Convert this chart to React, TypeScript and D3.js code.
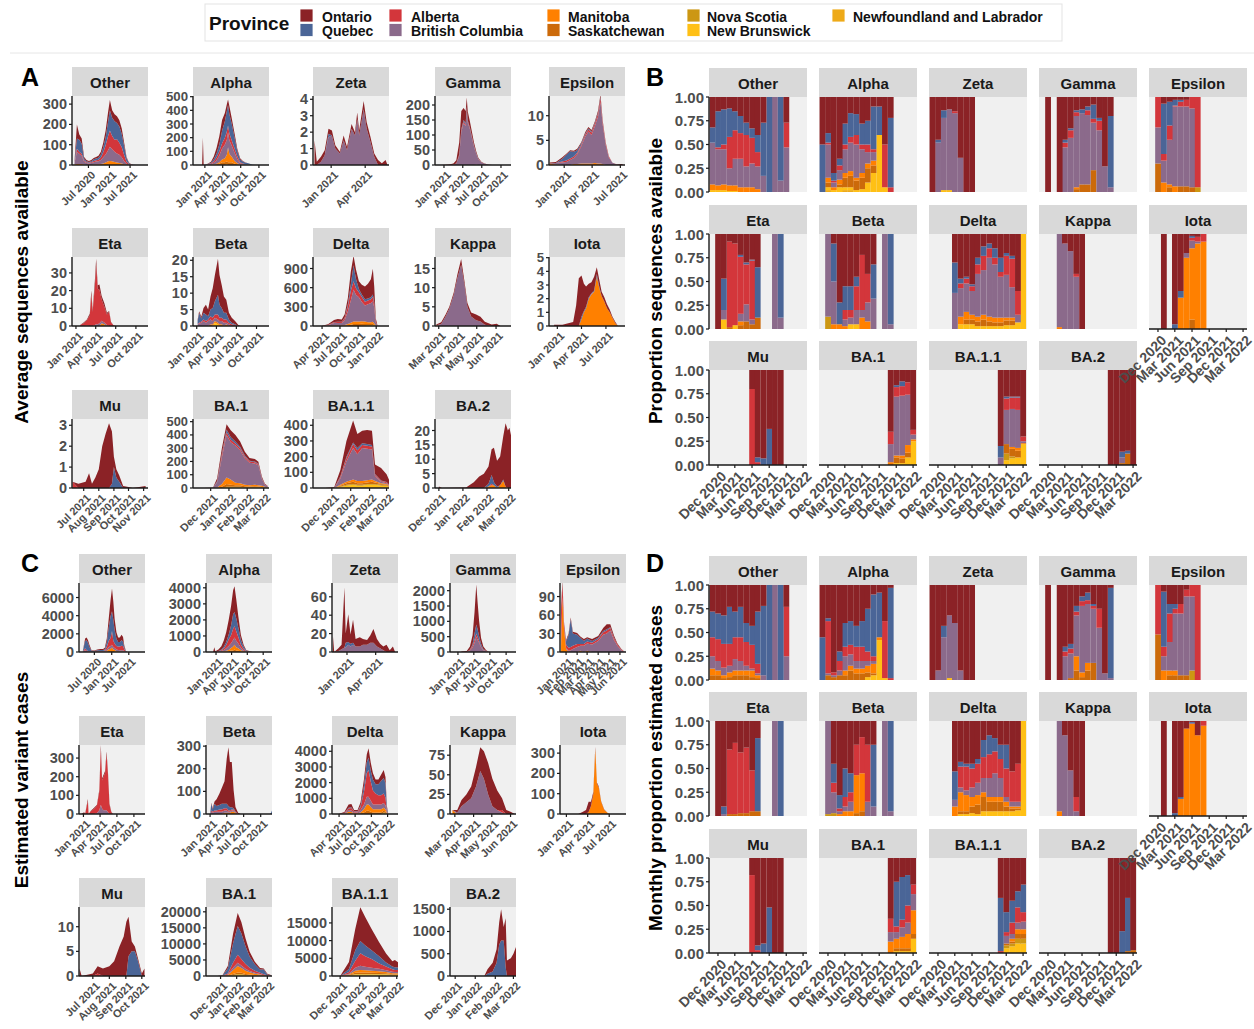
import React from "react";
import * as d3 from "d3";

const FONT = "'Liberation Sans', Arial, Helvetica, sans-serif";

const PROVINCES = ["Ontario", "Quebec", "Alberta", "British Columbia", "Manitoba", "Saskatchewan", "Nova Scotia", "New Brunswick", "Newfoundland and Labrador"];
const PROVINCE_COLORS = ["#8b2226", "#4a6597", "#d3363b", "#8b6a8b", "#ff8000", "#cc6a0a", "#cc9713", "#ffc015", "#eeaa18"];
const VARIANTS = ["Other", "Alpha", "Zeta", "Gamma", "Epsilon", "Eta", "Beta", "Delta", "Kappa", "Iota", "Mu", "BA.1", "BA.1.1", "BA.2"];
// stacking: first province ends on top
const STACK_KEYS = [8, 7, 6, 5, 4, 3, 2, 1, 0];

// ---------- Panel A: average sequences available  rows: [date, ON, QC, AB, BC, MB, SK, NS, NB, NL]
const seqOther = [
  ["2020-03-01", 4, 4, 2, 8, 2], ["2020-03-22", 70, 50, 15, 60, 5], ["2020-04-12", 25, 60, 10, 50, 5], ["2020-05-03", 25, 50, 10, 40, 5],
  ["2020-05-24", 8, 10, 5, 15, 2], ["2020-06-14", 6, 6, 3, 10], ["2020-07-05", 5, 4, 3, 8], ["2020-07-26", 6, 5, 4, 10],
  ["2020-08-16", 7, 8, 6, 12, 2], ["2020-09-06", 8, 8, 7, 14, 3], ["2020-09-27", 9, 10, 8, 15, 3], ["2020-10-18", 13, 15, 12, 20, 5],
  ["2020-11-08", 22, 25, 25, 30, 8], ["2020-11-29", 33, 40, 45, 40, 12], ["2020-12-20", 47, 70, 70, 55, 18], ["2021-01-05", 50, 100, 80, 70, 20],
  ["2021-01-25", 37, 90, 65, 60, 18], ["2021-02-15", 35, 90, 60, 50, 15], ["2021-03-08", 33, 80, 70, 45, 12], ["2021-03-29", 30, 80, 60, 40, 10],
  ["2021-04-19", 27, 65, 50, 30, 8], ["2021-05-10", 16, 45, 30, 15, 4], ["2021-05-31", 6, 18, 10, 5, 1], ["2021-06-21", 2, 5, 3, 2],
  ["2021-07-12", 1, 1, 1, 1], ["2021-08-02", 0, 1], ["2021-08-23", 0],
];
const seqAlpha = [
  ["2020-11-20", 0], ["2020-12-18", 0], ["2020-12-22", 200], ["2020-12-26", 0], ["2021-01-15", 3, 2, 2, 3], ["2021-02-01", 8, 5, 5, 5, 1],
  ["2021-02-15", 20, 15, 10, 12, 3, 2], ["2021-03-01", 40, 30, 20, 25, 5, 5], ["2021-03-15", 60, 50, 30, 50, 10, 10], ["2021-03-29", 80, 90, 40, 80, 20, 20],
  ["2021-04-12", 60, 120, 50, 100, 30, 20], ["2021-04-22", 50, 150, 60, 110, 50, 20, 0, 5], ["2021-04-28", 40, 150, 50, 110, 110, 20], ["2021-05-05", 60, 140, 50, 100, 60, 20],
  ["2021-05-17", 40, 120, 40, 80, 40, 20], ["2021-05-31", 30, 80, 30, 60, 20, 10], ["2021-06-14", 15, 40, 20, 30, 8, 5], ["2021-06-28", 8, 20, 8, 10, 3],
  ["2021-07-12", 4, 15, 3, 5, 2, 0, 0, 1], ["2021-07-26", 2, 12, 0, 3, 0, 0, 0, 2], ["2021-08-09", 0, 8, 0, 2, 0, 0, 0, 2], ["2021-08-30", 0, 2], ["2021-09-15", 0],
];
const seqZeta = [
  ["2020-11-18", 1.5], ["2020-11-24", 0.2], ["2020-12-05", 0.3, 0, 0, 0.2], ["2020-12-15", 0.3, 0, 0, 0.6], ["2020-12-25", 0.3, 0.2, 0, 1.7],
  ["2021-01-03", 0.3, 0, 0, 1.8], ["2021-01-12", 0.2, 0, 0, 1.0], ["2021-01-24", 0.1, 0, 0, 0.7], ["2021-02-03", 0.3, 0, 0, 1.5], ["2021-02-12", 0.2, 0, 0, 0.9],
  ["2021-02-24", 0.3, 0, 0, 2.2], ["2021-03-05", 0.2, 0, 0, 1.8], ["2021-03-11", 0.4, 0, 0, 2.8], ["2021-03-16", 0.3, 0, 0, 1.8], ["2021-03-28", 0.5, 0, 0, 3.4],
  ["2021-04-05", 0.4, 0, 0, 2.2], ["2021-04-15", 0.3, 0, 0, 1.4], ["2021-04-25", 0.2, 0, 0, 0.5], ["2021-05-05", 0.3], ["2021-05-15", 0.1], ["2021-05-25", 0.3], ["2021-05-30", 0],
];
const seqGamma = [
  ["2020-12-20", 0], ["2021-01-10", 1], ["2021-01-25", 2], ["2021-02-15", 4, 0, 0, 1], ["2021-03-01", 10, 0, 1, 5], ["2021-03-15", 40, 2, 3, 30],
  ["2021-03-25", 60, 5, 5, 110], ["2021-04-05", 40, 5, 5, 140], ["2021-04-15", 40, 5, 5, 130], ["2021-04-20", 30, 5, 5, 185], ["2021-04-25", 30, 3, 5, 140],
  ["2021-05-05", 20, 3, 3, 120], ["2021-05-15", 15, 2, 3, 90], ["2021-05-25", 10, 2, 2, 60], ["2021-06-05", 6, 1, 1, 35, 1], ["2021-06-15", 3, 1, 1, 18],
  ["2021-06-30", 2, 0, 0, 8], ["2021-07-15", 1, 0, 0, 4], ["2021-08-01", 0.5, 0, 0, 1], ["2021-08-20", 0],
];
const seqEpsilon = [
  ["2020-11-15", 0.2, 0, 0, 0, 0.3], ["2020-12-05", 0.2, 0, 0, 0.3, 0.1], ["2020-12-25", 0.3, 0.5, 0.2, 0.5], ["2021-01-08", 0.2, 1.2, 0.3, 0.6],
  ["2021-01-20", 0.2, 1.5, 0.3, 1.0], ["2021-02-01", 0.2, 1.0, 0.3, 1.2, 0.2], ["2021-02-12", 0.3, 0.5, 0.3, 2.0, 0.2], ["2021-02-25", 0.2, 0.3, 0.3, 3.5, 0.3],
  ["2021-03-10", 0.3, 0.2, 0.4, 5.5, 0.3], ["2021-03-20", 0.3, 0.2, 0.4, 6.5, 0.3], ["2021-03-30", 0.3, 0.2, 0.5, 5.8, 0.3], ["2021-04-10", 0.3, 0.2, 0.5, 7.5, 0.4],
  ["2021-04-20", 0.4, 0.2, 0.6, 9.5, 0.3], ["2021-04-28", 0.5, 0.2, 0.8, 12.5, 0.3], ["2021-05-05", 0.3, 0.1, 0.5, 8, 0.2], ["2021-05-15", 0.2, 0, 0.3, 4],
  ["2021-05-25", 0.1, 0, 0.2, 1.5], ["2021-06-05", 0, 0, 0, 0.5], ["2021-06-20", 0.1], ["2021-07-05", 0.2], ["2021-07-12", 0],
];
const seqEta = [
  ["2021-01-20", 0, 0, 0.5], ["2021-02-05", 0.5, 0, 1.5], ["2021-02-20", 0.5, 0, 3, 0.2], ["2021-03-05", 1, 0, 6], ["2021-03-12", 2, 0, 18],
  ["2021-03-18", 1, 0, 8], ["2021-03-28", 3, 0, 22, 0.5], ["2021-04-03", 3, 0, 34, 1], ["2021-04-10", 2, 0, 20, 1], ["2021-04-18", 3, 0, 19, 1.5],
  ["2021-04-28", 2, 0, 12, 1.5, 1.5], ["2021-05-10", 2, 0, 9, 1, 1], ["2021-05-22", 1, 0, 6, 0.5], ["2021-06-01", 0.5, 0, 8], ["2021-06-10", 0.3, 0, 2],
  ["2021-06-20", 0, 0, 0.5], ["2021-07-01", 0],
];
const seqBeta = [
  ["2021-01-05", 0.3, 1, 0, 0.5], ["2021-01-12", 0.5, 3, 0.3, 0.7], ["2021-01-22", 0.5, 1, 0.3, 1], ["2021-02-01", 1.5, 2, 0.5, 1.5],
  ["2021-02-12", 3, 2, 0.5, 1], ["2021-02-22", 2, 1, 0.5, 1.5], ["2021-03-05", 4, 2, 1, 1.5, 0, 0.5], ["2021-03-15", 6, 3, 1, 1, 0.5],
  ["2021-03-25", 8, 4, 1, 1, 0.5, 0, 0, 1], ["2021-04-08", 11, 6, 1.5, 1, 0.5, 0, 0, 0.5], ["2021-04-15", 9, 4, 1, 1, 0.5], ["2021-04-25", 7, 3, 1, 1, 0.5],
  ["2021-05-05", 5, 2, 1, 1], ["2021-05-16", 4, 2, 1, 0.5, 0.5], ["2021-05-28", 2, 1, 0.5, 0.5], ["2021-06-10", 1.5, 0.5, 0.5], ["2021-06-25", 1, 0.2, 0.3],
  ["2021-07-10", 0.3], ["2021-07-20", 0],
];
const seqDelta = [
  ["2021-04-01", 2, 0, 0, 1], ["2021-05-01", 10, 2, 2, 10, 2], ["2021-06-01", 30, 5, 10, 40, 5, 3], ["2021-06-20", 40, 5, 15, 40, 5, 3],
  ["2021-07-10", 35, 5, 15, 40, 5, 3], ["2021-07-25", 50, 10, 30, 80, 10, 5], ["2021-08-10", 100, 30, 80, 200, 20, 10], ["2021-08-25", 200, 100, 150, 350, 30, 20],
  ["2021-09-08", 150, 250, 130, 500, 40, 30], ["2021-09-20", 150, 150, 100, 420, 40, 30], ["2021-10-05", 120, 50, 80, 380, 40, 30], ["2021-10-20", 150, 40, 80, 300, 40, 30, 5],
  ["2021-11-05", 200, 40, 60, 250, 40, 25, 5], ["2021-11-20", 230, 30, 60, 280, 30, 20, 5, 5], ["2021-12-05", 280, 30, 60, 300, 30, 20, 5, 5],
  ["2021-12-15", 400, 40, 70, 320, 30, 20, 5, 5, 5], ["2021-12-22", 250, 30, 50, 250, 20, 10, 5, 5], ["2021-12-30", 50, 5, 10, 40, 5, 3, 2, 2],
  ["2022-01-08", 3, 0, 0, 2], ["2022-01-20", 0],
];
const seqKappa = [
  ["2021-02-25", 0.2, 0, 0, 0, 0.2], ["2021-03-05", 0.5, 0, 0, 0.5], ["2021-03-12", 0.5, 0, 0, 2.5], ["2021-03-18", 0.5, 0, 0, 4.5],
  ["2021-03-25", 0.7, 0, 0, 8], ["2021-03-31", 1, 0, 0, 12.5], ["2021-04-06", 1.5, 0, 0, 16], ["2021-04-11", 1, 0, 0, 11], ["2021-04-16", 1, 0, 0, 5],
  ["2021-04-22", 1, 0, 0, 2.5], ["2021-04-30", 1.5, 0, 0, 1.5], ["2021-05-07", 1.2, 0, 0, 1.2], ["2021-05-14", 0.8, 0, 0, 0.3], ["2021-05-25", 0.4],
  ["2021-06-02", 0.6], ["2021-06-08", 0],
];
const seqIota = [
  ["2020-12-20", 0.1], ["2021-01-20", 0.1], ["2021-03-01", 0.3], ["2021-03-12", 1.5], ["2021-03-22", 3.5], ["2021-04-01", 3, 0.2, 0, 0, 0.5],
  ["2021-04-10", 2, 0.1, 0, 0, 1], ["2021-04-18", 1.5, 0.1, 0, 0, 1.3], ["2021-04-28", 1, 0.1, 0, 0, 2], ["2021-05-08", 0.8, 0, 0, 0.1, 2.3],
  ["2021-05-18", 1, 0.1, 0, 0, 2.5], ["2021-05-28", 0.5, 0.2, 0, 0, 3.6], ["2021-06-06", 0.5, 0.1, 0, 0, 2.8], ["2021-06-15", 0.3, 0, 0, 0, 2.2],
  ["2021-06-25", 0.3, 0, 0, 0, 1.8], ["2021-07-05", 0.3, 0, 0, 0, 1.3], ["2021-07-15", 0.2, 0, 0, 0, 1], ["2021-07-25", 0.1, 0, 0, 0, 0.6],
  ["2021-08-05", 0.1, 0, 0, 0, 0.2], ["2021-08-15", 0],
];
const seqMu = [
  ["2021-06-08", 0, 0, 0.3], ["2021-06-20", 0.2], ["2021-07-05", 0.3], ["2021-07-12", 0.7], ["2021-07-18", 0.2], ["2021-07-25", 0.5], ["2021-08-01", 0.9],
  ["2021-08-08", 2.0], ["2021-08-15", 2.6], ["2021-08-22", 3.1], ["2021-08-28", 2.5, 0.2], ["2021-09-01", 0.5, 1.0], ["2021-09-06", 0.4, 0.5],
  ["2021-09-12", 0.3, 0.3], ["2021-09-20", 0.1], ["2021-10-01", 0.05], ["2021-10-10", 0], ["2021-11-05", 0.1],
];
const seqBA1 = [
  ["2021-11-20", 0], ["2021-12-05", 2, 0, 0, 2], ["2021-12-12", 20, 5, 5, 40, 3], ["2021-12-20", 40, 10, 20, 200, 20, 10], ["2021-12-28", 40, 20, 20, 320, 50, 20, 5, 5],
  ["2022-01-04", 50, 20, 20, 280, 40, 15, 5, 5], ["2022-01-12", 50, 15, 15, 280, 20, 10, 5, 5], ["2022-01-20", 40, 10, 15, 250, 15, 10, 5, 5],
  ["2022-01-28", 30, 8, 12, 200, 10, 8, 3, 3], ["2022-02-05", 20, 5, 10, 170, 10, 5, 3, 3], ["2022-02-14", 20, 5, 10, 160, 10, 8, 3, 3],
  ["2022-02-20", 15, 3, 8, 150, 10, 5, 3, 3], ["2022-02-26", 10, 2, 5, 50, 10, 3, 2, 2], ["2022-03-03", 5, 0, 3, 15, 5, 2, 1, 1], ["2022-03-08", 3, 0, 2, 8, 2, 1],
];
const seqBA11 = [
  ["2021-11-20", 0], ["2021-12-05", 5, 0, 0, 2], ["2021-12-15", 40, 5, 10, 40, 5, 5, 3, 5, 2], ["2021-12-25", 100, 10, 20, 130, 10, 10, 5, 10, 5],
  ["2022-01-05", 140, 10, 25, 200, 15, 15, 5, 15, 5], ["2022-01-12", 90, 15, 25, 170, 15, 10, 5, 10, 5], ["2022-01-20", 80, 10, 20, 210, 15, 10, 5, 10, 5],
  ["2022-01-28", 90, 10, 20, 200, 15, 10, 5, 15, 5], ["2022-02-05", 90, 10, 20, 190, 15, 15, 5, 15, 5], ["2022-02-10", 60, 5, 10, 30, 10, 10, 5, 15, 5],
  ["2022-02-20", 80, 3, 5, 10, 5, 5, 5, 10, 5], ["2022-03-01", 50, 2, 5, 5, 5, 5, 3, 10, 3], ["2022-03-05", 30, 1, 3, 3, 3, 3, 2, 5, 2],
];
const seqBA2 = [
  ["2021-12-01", 0.5], ["2021-12-05", 0], ["2022-01-05", 0.2], ["2022-01-15", 2], ["2022-01-22", 4], ["2022-01-28", 5], ["2022-02-03", 6, 1, 0, 0, 0.5],
  ["2022-02-07", 9, 3, 0.5, 0, 1], ["2022-02-10", 12, 1, 0, 0, 1], ["2022-02-14", 9, 0.5], ["2022-02-18", 10, 0, 0, 0, 1], ["2022-02-22", 15, 0.5, 0, 0, 2.5],
  ["2022-02-25", 22, 0, 0, 0, 0.5], ["2022-02-28", 20], ["2022-03-02", 21], ["2022-03-05", 17],
];
const seqStart = ["2020-02-08", "2020-11-02", "2020-11-14", "2020-11-19", "2020-11-13", "2020-12-14", "2020-12-15", "2021-02-14", "2021-02-23", "2020-12-01", "2021-06-07", "2021-11-01", "2021-10-31", "2021-11-26"];
const seqEnd = ["2021-12-05", "2021-11-21", "2021-06-03", "2021-11-18", "2021-07-16", "2021-11-25", "2021-11-27", "2022-03-07", "2021-06-25", "2021-09-10", "2021-11-10", "2022-03-10", "2022-03-05", "2022-03-04"];
const seqYMax = [340, 505, 4.2, 230, 14, 39, 21, 1080, 18, 5.05, 3.3, 520, 440, 24];
const seqYTicks = [[0, 100, 200, 300], [0, 100, 200, 300, 400, 500], [0, 1, 2, 3, 4], [0, 50, 100, 150, 200], [0, 5, 10], [0, 10, 20, 30], [0, 5, 10, 15, 20],
  [0, 300, 600, 900], [0, 5, 10, 15], [0, 1, 2, 3, 4, 5], [0, 1, 2, 3], [0, 100, 200, 300, 400, 500], [0, 100, 200, 300, 400], [0, 5, 10, 15, 20]];
const seqXTicks = [["2020-07", "2021-01", "2021-07"], ["2021-01", "2021-04", "2021-07", "2021-10"], ["2021-01", "2021-04"], ["2021-01", "2021-04", "2021-07", "2021-10"],
  ["2021-01", "2021-04", "2021-07"], ["2021-01", "2021-04", "2021-07", "2021-10"], ["2021-01", "2021-04", "2021-07", "2021-10"], ["2021-04", "2021-07", "2021-10", "2022-01"],
  ["2021-03", "2021-04", "2021-05", "2021-06"], ["2021-01", "2021-04", "2021-07"], ["2021-07", "2021-08", "2021-09", "2021-10", "2021-11"],
  ["2021-12", "2022-01", "2022-02", "2022-03"], ["2021-12", "2022-01", "2022-02", "2022-03"], ["2021-12", "2022-01", "2022-02", "2022-03"]];

// ---------- Panel C: estimated variant cases
const caseOther = [
  ["2020-03-01", 50, 50, 20, 30], ["2020-03-25", 300, 800, 200, 200], ["2020-04-10", 300, 1100, 100, 100], ["2020-04-25", 300, 900, 50, 50],
  ["2020-05-10", 200, 500, 30, 30], ["2020-06-01", 50, 100, 20, 20], ["2020-07-01", 50, 50, 30, 30], ["2020-08-01", 80, 80, 50, 50, 20],
  ["2020-09-01", 100, 100, 50, 50, 20], ["2020-10-01", 100, 100, 50, 50, 20], ["2020-10-20", 150, 150, 80, 60, 20], ["2020-11-10", 400, 500, 300, 150, 80, 50],
  ["2020-12-01", 1000, 1500, 700, 250, 200, 100], ["2020-12-20", 1800, 2400, 900, 300, 250, 100], ["2021-01-04", 2500, 2200, 1500, 300, 400, 100],
  ["2021-01-18", 2000, 2300, 700, 250, 200, 100], ["2021-02-01", 1200, 1500, 500, 200, 150, 80], ["2021-02-20", 700, 800, 400, 150, 80, 40],
  ["2021-03-10", 500, 500, 400, 150, 60], ["2021-03-28", 500, 500, 400, 150, 50], ["2021-04-15", 600, 600, 500, 150, 50], ["2021-05-01", 500, 500, 450, 150, 50],
  ["2021-05-15", 200, 200, 200, 80, 20], ["2021-06-01", 30, 30, 30, 10], ["2021-06-15", 0],
];
const caseAlpha = [
  ["2020-12-15", 0], ["2020-12-22", 300], ["2020-12-28", 50], ["2021-01-15", 100, 20, 20, 20], ["2021-02-01", 200, 50, 50, 50, 10],
  ["2021-02-15", 400, 100, 100, 80, 20, 20], ["2021-03-01", 600, 200, 200, 150, 50, 30], ["2021-03-15", 900, 300, 400, 250, 80, 50],
  ["2021-03-29", 1200, 600, 500, 300, 150, 100], ["2021-04-10", 1500, 900, 700, 400, 250, 100], ["2021-04-18", 1600, 900, 700, 450, 300, 150],
  ["2021-04-28", 1200, 800, 600, 400, 200, 100], ["2021-05-10", 700, 600, 400, 300, 150, 80], ["2021-05-25", 300, 300, 200, 150, 80, 30],
  ["2021-06-10", 100, 150, 80, 60, 30, 10], ["2021-06-25", 30, 50, 20, 20, 10], ["2021-07-15", 10, 20, 5, 5], ["2021-08-01", 0],
];
const caseZeta = [
  ["2020-11-18", 17], ["2020-11-22", 0], ["2020-12-05", 3, 0, 0, 1], ["2020-12-15", 5, 0, 0, 3], ["2020-12-24", 65, 0, 0, 5], ["2020-12-28", 10, 5, 0, 5],
  ["2021-01-05", 30, 3, 0, 8], ["2021-01-12", 10, 3, 0, 6], ["2021-01-20", 25, 2, 0, 8], ["2021-01-28", 8, 0, 0, 6], ["2021-02-10", 10, 0, 0, 6],
  ["2021-02-20", 6, 0, 0, 8], ["2021-03-05", 5, 0, 0, 8], ["2021-03-15", 8, 0, 0, 10], ["2021-03-25", 15, 0, 0, 10], ["2021-04-05", 8, 0, 0, 6],
  ["2021-04-15", 5, 0, 0, 4], ["2021-04-25", 4, 0, 0, 2], ["2021-05-05", 8], ["2021-05-15", 2], ["2021-05-25", 6], ["2021-06-01", 0],
];
const caseGamma = [
  ["2021-01-20", 20], ["2021-02-20", 30], ["2021-03-10", 100, 10, 20, 50], ["2021-03-25", 300, 50, 50, 150], ["2021-04-05", 700, 200, 100, 300],
  ["2021-04-15", 1300, 300, 100, 500], ["2021-04-22", 900, 250, 100, 400], ["2021-05-01", 500, 150, 60, 300], ["2021-05-12", 200, 80, 30, 150],
  ["2021-05-25", 80, 30, 10, 60], ["2021-06-10", 20, 10, 5, 20], ["2021-06-25", 5, 0, 0, 5], ["2021-07-10", 0],
];
const caseEpsilon = [
  ["2020-12-18", 5, 0, 60, 0, 10], ["2020-12-22", 5, 0, 20, 0, 90], ["2020-12-26", 0, 0, 10, 0, 40], ["2021-01-01", 2, 5, 5, 2, 5], ["2021-01-08", 3, 20, 5, 2],
  ["2021-01-14", 3, 45, 5, 3], ["2021-01-20", 3, 20, 5, 5], ["2021-02-01", 3, 15, 5, 8], ["2021-02-10", 2, 10, 3, 8, 2], ["2021-02-20", 3, 5, 3, 10],
  ["2021-03-01", 2, 5, 3, 12, 2], ["2021-03-15", 3, 3, 3, 12], ["2021-04-01", 3, 2, 3, 18], ["2021-04-15", 5, 2, 4, 28], ["2021-04-25", 8, 2, 5, 30],
  ["2021-05-05", 5, 1, 4, 35], ["2021-05-15", 3, 1, 3, 20], ["2021-05-25", 2, 0, 2, 10], ["2021-06-05", 1, 0, 1, 3], ["2021-06-15", 0],
];
const caseEta = [
  ["2020-12-20", 0], ["2021-01-05", 10], ["2021-01-10", 0], ["2021-01-25", 10, 0, 70], ["2021-01-29", 0], ["2021-02-10", 2, 0, 15], ["2021-03-01", 5, 0, 30],
  ["2021-03-15", 5, 0, 40, 5], ["2021-03-28", 10, 0, 100, 20], ["2021-04-05", 20, 0, 300, 50], ["2021-04-12", 10, 0, 150, 30], ["2021-04-20", 10, 0, 180, 20],
  ["2021-04-28", 10, 0, 200, 20], ["2021-05-06", 15, 0, 300, 20], ["2021-05-14", 10, 0, 200, 10], ["2021-05-22", 5, 0, 50], ["2021-06-01", 2, 0, 10], ["2021-06-10", 0],
];
const caseBeta = [
  ["2021-01-01", 0], ["2021-01-08", 5, 30, 5, 10], ["2021-01-15", 5, 10, 5, 5], ["2021-01-25", 10, 30, 5, 10], ["2021-02-05", 30, 20, 5, 10],
  ["2021-02-20", 50, 20, 10, 10], ["2021-03-05", 70, 25, 10, 10], ["2021-03-20", 100, 20, 10, 10, 5], ["2021-04-01", 200, 20, 10, 10, 5],
  ["2021-04-10", 260, 20, 5, 5, 5], ["2021-04-18", 200, 15, 5, 5, 5], ["2021-04-28", 200, 10, 5, 5, 10], ["2021-05-08", 80, 5, 5, 5, 10],
  ["2021-05-18", 20, 2, 2, 2, 5], ["2021-06-01", 5], ["2021-06-15", 0], ["2021-11-20", 0], ["2021-11-26", 0, 6], ["2021-12-01", 0, 15],
];
const caseDelta = [
  ["2021-04-01", 10], ["2021-05-01", 50, 10, 20, 20, 20], ["2021-05-25", 200, 50, 100, 100, 100, 50], ["2021-06-10", 200, 50, 150, 100, 80, 50],
  ["2021-06-25", 80, 20, 60, 50, 30, 20], ["2021-07-15", 80, 20, 60, 50, 20, 20], ["2021-08-01", 200, 100, 200, 150, 50, 50], ["2021-08-20", 400, 400, 800, 300, 200, 100],
  ["2021-09-05", 500, 700, 1500, 500, 400, 200], ["2021-09-15", 600, 800, 1700, 500, 400, 200], ["2021-09-28", 500, 700, 1200, 400, 300, 150],
  ["2021-10-10", 400, 700, 900, 300, 200, 100], ["2021-10-25", 300, 600, 700, 300, 200, 100], ["2021-11-10", 300, 700, 600, 300, 200, 100],
  ["2021-11-25", 400, 900, 600, 300, 200, 100], ["2021-12-10", 500, 1000, 600, 300, 200, 100, 50, 50], ["2021-12-20", 400, 900, 500, 250, 150, 80, 40, 40],
  ["2021-12-28", 100, 200, 100, 50, 40, 20], ["2022-01-05", 0],
];
const caseKappa = [
  ["2021-02-25", 0, 0, 0, 0, 5], ["2021-03-05", 3, 0, 0, 2], ["2021-03-12", 8, 0, 0, 10], ["2021-03-20", 10, 0, 0, 15], ["2021-03-28", 15, 0, 0, 20],
  ["2021-04-05", 25, 0, 0, 35], ["2021-04-12", 30, 0, 0, 55], ["2021-04-18", 35, 0, 0, 45], ["2021-04-25", 40, 0, 0, 25], ["2021-05-02", 35, 0, 0, 10],
  ["2021-05-10", 25, 0, 0, 5], ["2021-05-18", 15, 0, 3, 2], ["2021-05-25", 5], ["2021-06-01", 3], ["2021-06-08", 0],
];
const caseIota = [
  ["2021-02-20", 0], ["2021-03-10", 10], ["2021-03-25", 20], ["2021-04-05", 50, 0, 0, 0, 10], ["2021-04-15", 20, 0, 0, 0, 40], ["2021-04-25", 10, 0, 0, 0, 100],
  ["2021-05-03", 10, 0, 0, 0, 320], ["2021-05-10", 5, 0, 0, 0, 150], ["2021-05-18", 5, 0, 0, 0, 130], ["2021-05-28", 3, 0, 0, 0, 60], ["2021-06-10", 2, 0, 0, 0, 20],
  ["2021-06-25", 0, 0, 0, 0, 5], ["2021-07-05", 0],
];
const caseMu = [
  ["2021-06-06", 1.5], ["2021-06-10", 0], ["2021-07-01", 0.5], ["2021-07-10", 1.5, 0, 0.5], ["2021-07-20", 1.5], ["2021-08-01", 2], ["2021-08-10", 3],
  ["2021-08-20", 6], ["2021-08-28", 8], ["2021-09-02", 11], ["2021-09-06", 8, 4], ["2021-09-12", 2, 5], ["2021-09-18", 1, 5], ["2021-09-24", 0.5, 3],
  ["2021-10-01", 0.5], ["2021-10-06", 1.5],
];
const caseBA1 = [
  ["2021-11-25", 0], ["2021-12-05", 100, 100, 50, 50, 20], ["2021-12-15", 800, 1500, 300, 200, 200, 100], ["2021-12-25", 3000, 6000, 1500, 800, 1200, 300, 100, 200],
  ["2022-01-03", 4000, 9000, 2500, 1000, 2000, 500, 200, 300, 100], ["2022-01-10", 3500, 8000, 2000, 800, 1500, 400, 200, 300, 100],
  ["2022-01-18", 2500, 5500, 1500, 600, 1000, 300, 150, 200], ["2022-01-26", 1500, 3500, 1000, 400, 700, 200, 100, 150],
  ["2022-02-05", 800, 2000, 600, 300, 400, 150, 80, 100], ["2022-02-15", 500, 1000, 400, 200, 200, 100, 50, 80], ["2022-02-22", 300, 1500, 300, 100, 100, 50],
  ["2022-03-01", 200, 300, 100, 50, 50], ["2022-03-08", 100, 100, 50, 20, 20],
];
const caseBA11 = [
  ["2021-12-01", 0], ["2021-12-15", 2000, 800, 500, 200, 200, 100, 50, 50, 50], ["2021-12-25", 6000, 3000, 2000, 800, 600, 300, 200, 300, 100],
  ["2022-01-02", 9500, 3500, 3500, 1200, 700, 400, 200, 300, 100], ["2022-01-10", 8000, 3000, 3000, 1000, 600, 400, 200, 300, 100],
  ["2022-01-20", 6000, 2500, 2500, 800, 600, 300, 200, 300, 100], ["2022-02-01", 4000, 2000, 1500, 700, 500, 300, 150, 300, 100],
  ["2022-02-12", 2500, 1200, 1000, 500, 400, 200, 150, 300, 100], ["2022-02-22", 1500, 800, 700, 400, 300, 150, 100, 200, 50],
  ["2022-02-26", 2000, 800, 600, 300, 300, 150, 100, 200, 50], ["2022-03-03", 1500, 700, 600, 300, 300, 150, 100, 200, 50],
];
const caseBA2 = [
  ["2022-01-15", 0], ["2022-01-20", 100, 50], ["2022-01-28", 200, 100], ["2022-02-03", 300, 300], ["2022-02-07", 500, 700], ["2022-02-10", 700, 800],
  ["2022-02-14", 300, 800], ["2022-02-17", 1100, 200], ["2022-02-19", 350, 0], ["2022-02-25", 400], ["2022-03-01", 500], ["2022-03-05", 650],
];
const caseStart = ["2020-01-20", "2020-11-04", "2020-11-15", "2020-11-17", "2020-12-15", "2020-12-08", "2020-12-10", "2021-02-20", "2021-02-21", "2020-12-05", "2021-06-05", "2021-11-03", "2021-11-18", "2021-11-23"];
const caseEnd = ["2021-12-20", "2021-11-21", "2021-06-10", "2021-11-26", "2021-06-18", "2021-11-30", "2021-12-01", "2022-03-01", "2021-06-10", "2021-09-10", "2021-10-07", "2022-03-10", "2022-03-03", "2022-03-05"];
const caseYMax = [7600, 4300, 75, 2250, 112, 370, 305, 4400, 88, 340, 14, 21500, 19500, 1550];
const caseYTicks = [[0, 2000, 4000, 6000], [0, 1000, 2000, 3000, 4000], [0, 20, 40, 60], [0, 500, 1000, 1500, 2000], [0, 30, 60, 90], [0, 100, 200, 300],
  [0, 100, 200, 300], [0, 1000, 2000, 3000, 4000], [0, 25, 50, 75], [0, 100, 200, 300], [0, 5, 10], [0, 5000, 10000, 15000, 20000], [0, 5000, 10000, 15000], [0, 500, 1000, 1500]];
const caseXTicks = [["2020-07", "2021-01", "2021-07"], ["2021-01", "2021-04", "2021-07", "2021-10"], ["2021-01", "2021-04"], ["2021-01", "2021-04", "2021-07", "2021-10"],
  ["2021-01", "2021-02", "2021-03", "2021-04", "2021-05", "2021-06"], ["2021-01", "2021-04", "2021-07", "2021-10"], ["2021-01", "2021-04", "2021-07", "2021-10"],
  ["2021-04", "2021-07", "2021-10", "2022-01"], ["2021-03", "2021-04", "2021-05", "2021-06"], ["2021-01", "2021-04", "2021-07"], ["2021-07", "2021-08", "2021-09", "2021-10"],
  ["2021-12", "2022-01", "2022-02", "2022-03"], ["2021-12", "2022-01", "2022-02", "2022-03"], ["2021-12", "2022-01", "2022-02", "2022-03"]];

// ---------- Panel B: proportion sequences available, monthly  rows: [month, ON, QC, AB, BC, MB, SK, NS, NB, NL]
const propOther = [["2020-11", 32, 16, 0, 44, 6, 0, 0, 2], ["2020-12", 15, 38, 2, 38, 5, 0, 0, 2], ["2021-01", 13, 37, 5, 37, 6, 0, 0, 2], ["2021-02", 12, 30, 33, 18, 6, 0, 0, 1],
  ["2021-03", 15, 20, 30, 28, 6, 0, 0, 1], ["2021-04", 20, 18, 27, 30, 5], ["2021-05", 27, 13, 33, 22, 5], ["2021-06", 33, 10, 27, 25, 5], ["2021-07", 40, 18, 15, 24, 3],
  ["2021-08", 27, 56, 0, 17], ["2021-09", 0, 100], ["2021-10", 0, 0, 0, 100], ["2021-11", 0, 88, 0, 12], ["2021-12", 27, 0, 26, 47]];
const propAlpha = [["2020-11", 50, 50], ["2020-12", 38, 10, 2, 35, 5, 5, 0, 3, 2], ["2021-01", 80, 8, 2, 5, 3, 0, 0, 2], ["2021-02", 65, 7, 5, 10, 5, 3, 0, 5],
  ["2021-03", 28, 22, 5, 25, 5, 10, 0, 3, 2], ["2021-04", 17, 25, 6, 30, 5, 12, 0, 3, 2], ["2021-05", 18, 22, 10, 35, 3, 10, 0, 2], ["2021-06", 28, 22, 5, 25, 5, 12, 0, 3],
  ["2021-07", 25, 25, 8, 12, 5, 15, 0, 10], ["2021-08", 10, 45, 3, 9, 5, 8, 0, 20], ["2021-09", 10, 30, 0, 0, 0, 0, 0, 60], ["2021-10", 50, 0, 45, 0, 0, 0, 0, 5], ["2021-11", 22, 73, 5]];
const propZeta = [["2020-11", 100], ["2020-12", 45, 3, 0, 52], ["2021-01", 14, 8, 0, 76, 0, 0, 0, 2], ["2021-02", 13, 0, 0, 85, 0, 0, 0, 2], ["2021-03", 15, 0, 2, 83],
  ["2021-04", 64, 0, 0, 36], ["2021-05", 100], ["2021-06", 100]];
const propGamma = [["2020-12", 100], ["2021-02", 100], ["2021-03", 45, 3, 5, 47], ["2021-04", 33, 2, 8, 57], ["2021-05", 14, 2, 4, 75, 2, 3], ["2021-06", 13, 4, 0, 75, 0, 8],
  ["2021-07", 10, 4, 5, 73, 0, 8], ["2021-08", 8, 15, 4, 50, 0, 23], ["2021-09", 22, 3, 10, 65], ["2021-10", 73, 0, 0, 27], ["2021-11", 20, 75, 0, 5]];
const propEpsilon = [["2020-12", 0, 0, 32, 38, 0, 30], ["2021-01", 7, 53, 7, 23, 10], ["2021-02", 5, 25, 15, 47, 3, 5], ["2021-03", 3, 6, 1, 84, 6], ["2021-04", 3, 2, 5, 84, 0, 6],
  ["2021-05", 3, 0, 7, 84, 0, 6], ["2021-06", 0, 0, 12, 83, 0, 5], ["2021-07", 0, 0, 95, 0, 0, 0, 5]];
const propEta = [["2020-12", 100], ["2021-01", 47, 33, 0, 10, 0, 0, 0, 10], ["2021-02", 8, 0, 90, 0, 0, 2], ["2021-03", 10, 0, 86, 0, 0, 0, 0, 4], ["2021-04", 22, 2, 60, 8, 4, 4],
  ["2021-05", 30, 2, 42, 18, 0, 8], ["2021-06", 27, 1, 62, 5, 0, 5], ["2021-07", 35, 53, 0, 0, 0, 12], ["2021-10", 0, 0, 0, 100], ["2021-11", 0, 88, 0, 12]];
const propBeta = [["2020-12", 0, 0, 0, 87, 0, 0, 13], ["2021-01", 10, 40, 0, 45, 5], ["2021-02", 72, 23, 0, 0, 5], ["2021-03", 55, 25, 10, 7, 3], ["2021-04", 55, 25, 8, 7, 0, 0, 0, 5],
  ["2021-05", 45, 10, 25, 15, 0, 0, 0, 5], ["2021-06", 22, 0, 58, 8, 12], ["2021-07", 42, 0, 30, 20, 8], ["2021-08", 32, 36, 0, 32], ["2021-10", 0, 0, 0, 100], ["2021-11", 0, 95, 0, 5]];
const propDelta = [["2021-03", 30, 32, 0, 38], ["2021-04", 47, 5, 5, 30, 8, 0, 0, 5], ["2021-05", 45, 2, 5, 30, 8, 5, 0, 5], ["2021-06", 53, 2, 5, 25, 5, 5, 0, 5],
  ["2021-07", 25, 7, 10, 45, 5, 5, 0, 3], ["2021-08", 13, 10, 15, 47, 5, 7, 0, 3], ["2021-09", 10, 5, 10, 62, 5, 5, 0, 3], ["2021-10", 15, 10, 7, 56, 5, 4, 0, 3],
  ["2021-11", 25, 15, 5, 43, 5, 4, 0, 3], ["2021-12", 20, 3, 20, 45, 3, 5, 0, 4], ["2022-01", 23, 3, 30, 32, 3, 5, 0, 4], ["2022-02", 60, 0, 25, 8, 0, 0, 0, 7],
  ["2022-03", 0, 0, 0, 0, 0, 0, 0, 100]];
const propKappa = [["2021-02", 0, 0, 0, 98, 2], ["2021-03", 10, 0, 0, 90], ["2021-04", 18, 0, 0, 82], ["2021-05", 42, 0, 3, 55], ["2021-06", 100]];
const propIota = [["2021-01", 100], ["2021-03", 95, 5], ["2021-04", 60, 7, 0, 0, 33], ["2021-05", 20, 0, 0, 5, 75], ["2021-06", 2, 2, 3, 8, 75, 10], ["2021-07", 3, 0, 5, 2, 90],
  ["2021-08", 0, 0, 8, 0, 92]];
const propMu = [["2021-06", 20, 0, 80], ["2021-07", 92, 5, 3], ["2021-08", 93, 7], ["2021-09", 62, 38], ["2021-10", 100], ["2021-11", 100]];
const propBA1 = [["2021-11", 65, 0, 13, 19, 3], ["2021-12", 16, 2, 10, 62, 2, 6, 0, 2], ["2022-01", 12, 5, 10, 63, 3, 5, 0, 2], ["2022-02", 13, 0, 13, 53, 8, 5, 0, 8],
  ["2022-03", 63, 0, 5, 5, 2, 0, 0, 25]];
const propBA11 = [["2021-11", 80, 12, 0, 8], ["2021-12", 28, 2, 12, 36, 0, 10, 7, 5], ["2022-01", 28, 1, 12, 40, 2, 8, 2, 7], ["2022-02", 28, 1, 13, 40, 3, 7, 0, 8],
  ["2022-03", 70, 0, 5, 2, 1, 0, 0, 22]];
const propBA2 = [["2021-11", 100], ["2021-12", 100], ["2022-01", 86, 6, 0, 6, 0, 2], ["2022-02", 85, 3, 0, 0, 0, 12], ["2022-03", 100]];

// ---------- Panel D: monthly proportion estimated cases
const mpropOther = [["2020-11", 28, 27, 20, 13, 7, 5], ["2020-12", 30, 27, 23, 10, 5, 5], ["2021-01", 32, 30, 25, 8, 3, 2], ["2021-02", 23, 39, 23, 7, 5, 3],
  ["2021-03", 28, 27, 23, 12, 5, 5], ["2021-04", 23, 32, 25, 10, 5, 5], ["2021-05", 40, 20, 25, 5, 5, 5], ["2021-06", 43, 20, 25, 2, 7, 3], ["2021-07", 28, 55, 10, 2, 3, 2],
  ["2021-08", 22, 73, 0, 5], ["2021-09", 0, 100], ["2021-10", 0, 0, 0, 100], ["2021-11", 0, 100], ["2021-12", 23, 0, 52, 25]];
const mpropAlpha = [["2020-11", 55, 45], ["2020-12", 35, 3, 55, 2, 0, 5], ["2021-01", 92, 0, 3, 2, 0, 3], ["2021-02", 70, 10, 10, 5, 0, 5], ["2021-03", 40, 25, 10, 15, 5, 5],
  ["2021-04", 38, 25, 10, 12, 5, 10], ["2021-05", 43, 22, 15, 8, 5, 7], ["2021-06", 38, 27, 15, 8, 5, 7], ["2021-07", 25, 45, 10, 5, 7, 5, 0, 3], ["2021-08", 10, 65, 5, 3, 10, 2, 0, 5],
  ["2021-09", 8, 47, 0, 0, 3, 0, 0, 42], ["2021-10", 38, 0, 60, 0, 0, 0, 0, 2], ["2021-11", 3, 95, 2]];
const mpropZeta = [["2020-11", 100], ["2020-12", 90, 0, 0, 10], ["2021-01", 43, 12, 0, 45], ["2021-02", 32, 0, 0, 66, 0, 0, 0, 2], ["2021-03", 40, 0, 0, 60],
  ["2021-04", 90, 0, 0, 10], ["2021-05", 100], ["2021-06", 100]];
const mpropGamma = [["2020-12", 100], ["2021-02", 100], ["2021-03", 65, 5, 5, 25], ["2021-04", 62, 5, 5, 26, 0, 2], ["2021-05", 22, 6, 4, 43, 15, 10], ["2021-06", 12, 5, 5, 70, 5, 3],
  ["2021-07", 8, 8, 4, 62, 8, 10], ["2021-08", 20, 2, 3, 57, 0, 18], ["2021-09", 25, 0, 20, 55], ["2021-10", 93, 0, 0, 7], ["2021-11", 3, 95, 0, 2]];
const mpropEpsilon = [["2020-12", 0, 0, 52, 0, 0, 48], ["2021-01", 7, 58, 10, 15, 10], ["2021-02", 20, 10, 30, 30, 5, 5], ["2021-03", 20, 5, 5, 60, 5, 5], ["2021-04", 20, 0, 10, 65, 0, 5],
  ["2021-05", 5, 0, 7, 83, 0, 5], ["2021-06", 0, 0, 12, 78, 0, 0, 10], ["2021-07", 0, 0, 100]];
const mpropEta = [["2020-12", 100], ["2021-01", 90, 8, 0, 2], ["2021-02", 30, 0, 68, 0, 0, 2], ["2021-03", 23, 0, 75, 0, 0, 2], ["2021-04", 33, 0, 64, 0, 0, 3],
  ["2021-05", 28, 0, 69, 0, 0, 3], ["2021-06", 52, 0, 43, 0, 0, 5], ["2021-07", 18, 77, 0, 0, 0, 5], ["2021-10", 0, 0, 0, 100], ["2021-11", 0, 100]];
const mpropBeta = [["2020-12", 0, 0, 0, 98, 0, 0, 2], ["2021-01", 45, 20, 10, 22, 0, 0, 3], ["2021-02", 78, 14, 3, 3, 2], ["2021-03", 50, 30, 10, 5, 5], ["2021-04", 55, 20, 10, 10, 5],
  ["2021-05", 25, 0, 32, 0, 40, 3], ["2021-06", 17, 0, 38, 0, 40, 5], ["2021-07", 25, 0, 60, 15], ["2021-08", 25, 65, 0, 10], ["2021-10", 0, 0, 0, 100], ["2021-11", 0, 95, 0, 5]];
const mpropDelta = [["2021-03", 53, 30, 0, 7, 10], ["2021-04", 43, 5, 22, 5, 20, 3, 0, 2], ["2021-05", 45, 3, 25, 5, 17, 3, 0, 2], ["2021-06", 45, 5, 20, 10, 10, 7, 0, 3],
  ["2021-07", 40, 5, 20, 13, 10, 10, 0, 2], ["2021-08", 20, 18, 22, 15, 5, 15, 0, 5], ["2021-09", 15, 20, 25, 20, 5, 10, 0, 5], ["2021-10", 18, 14, 23, 25, 5, 10, 0, 5],
  ["2021-11", 25, 15, 20, 20, 5, 10, 0, 5], ["2021-12", 25, 25, 30, 5, 5, 5, 0, 5], ["2022-01", 53, 0, 32, 5, 2, 3, 0, 5], ["2022-02", 45, 0, 40, 5, 2, 2, 0, 6],
  ["2022-03", 0, 0, 0, 0, 0, 0, 0, 100]];
const mpropKappa = [["2021-02", 0, 0, 0, 95, 5], ["2021-03", 15, 0, 0, 85], ["2021-04", 52, 0, 0, 48], ["2021-05", 80, 0, 15, 5], ["2021-06", 100]];
const mpropIota = [["2021-01", 100], ["2021-03", 97, 3], ["2021-04", 80, 2, 0, 0, 18], ["2021-05", 8, 0, 0, 0, 92], ["2021-06", 1, 1, 0, 1, 97], ["2021-07", 15, 0, 0, 0, 85],
  ["2021-08", 0, 0, 5, 0, 95]];
const mpropMu = [["2021-06", 18, 0, 82], ["2021-07", 92, 5, 3], ["2021-08", 90, 10], ["2021-09", 52, 48], ["2021-10", 100], ["2021-11", 100]];
const mpropBA1 = [["2021-11", 64, 0, 14, 10, 12], ["2021-12", 25, 47, 6, 7, 10, 3, 0, 2], ["2022-01", 20, 45, 8, 10, 12, 3, 0, 2], ["2022-02", 18, 32, 18, 12, 15, 3, 0, 2],
  ["2022-03", 28, 0, 10, 17, 25, 5, 0, 15]];
const mpropBA11 = [["2021-11", 42, 56, 2], ["2021-12", 57, 21, 4, 8, 0, 2, 3, 5], ["2022-01", 45, 23, 12, 5, 3, 2, 3, 7], ["2022-02", 35, 17, 16, 7, 5, 5, 5, 10],
  ["2022-03", 28, 29, 10, 8, 5, 5, 5, 10]];
const mpropBA2 = [["2021-11", 100], ["2021-12", 100], ["2022-01", 77, 23], ["2022-02", 42, 56, 0, 0, 0, 2], ["2022-03", 97, 0, 0, 0, 0, 3]];

const barDomain = ["2020-10-14", "2022-03-22"];
const barXTicks = ["2020-12", "2021-03", "2021-06", "2021-09", "2021-12", "2022-03"];
const barYTicks = [0, 0.25, 0.5, 0.75, 1];

const seqRows = [seqOther, seqAlpha, seqZeta, seqGamma, seqEpsilon, seqEta, seqBeta, seqDelta, seqKappa, seqIota, seqMu, seqBA1, seqBA11, seqBA2];
const caseRows = [caseOther, caseAlpha, caseZeta, caseGamma, caseEpsilon, caseEta, caseBeta, caseDelta, caseKappa, caseIota, caseMu, caseBA1, caseBA11, caseBA2];
const propRows = [propOther, propAlpha, propZeta, propGamma, propEpsilon, propEta, propBeta, propDelta, propKappa, propIota, propMu, propBA1, propBA11, propBA2];
const mpropRows = [mpropOther, mpropAlpha, mpropZeta, mpropGamma, mpropEpsilon, mpropEta, mpropBeta, mpropDelta, mpropKappa, mpropIota, mpropMu, mpropBA1, mpropBA11, mpropBA2];

// ---------- layout
const STRIP_H = 29;
const A_COLS = [72, 193, 313, 435, 549], A_W = 76, A_ROWS = [96, 257, 419], A_H = 69;
const C_COLS = [79, 206, 332, 450, 560], C_W = 66, C_ROWS = [583, 745, 907], C_H = 69;
const B_COLS = [709, 819, 929, 1039, 1149], B_W = 98, B_ROWS = [97, 234, 370], D_ROWS = [585, 721, 858], B_H = 95;
// draw order: Iota last so its axis labels sit on top of the neighbouring panel
const DRAW_ORDER = [0, 1, 2, 3, 4, 5, 6, 7, 8, 10, 11, 12, 13, 9];

const parseDay = d3.timeParse("%Y-%m-%d");
const parseMonth = d3.timeParse("%Y-%m");
const fmtMonth = d3.timeFormat("%b %Y");
const AXIS_COL = "#1a1a1a";
const TICK_COL = "#4d4d4d";

function Strip({ px, py, pw, name }) {
  return (
    <g>
      <rect x={px} y={py - STRIP_H} width={pw} height={STRIP_H} fill="#d9d9d9" />
      <text x={px + pw / 2} y={py - STRIP_H / 2 + 1} textAnchor="middle" dominantBaseline="central" fontSize={15} fontWeight="bold" fill="#1a1a1a">{name}</text>
    </g>
  );
}

function AreaFacet({ id, name, rows, start, end, yMax, yTicks, xTicks, px, py, pw, ph }) {
  const xs = d3.scaleTime().domain([parseDay(start), parseDay(end)]).range([px, px + pw]);
  const ys = d3.scaleLinear().domain([0, yMax]).range([py + ph, py]);
  const data = rows.map((r) => ({ date: parseDay(r[0]), v: PROVINCES.map((_, i) => Number(r[i + 1] ?? 0)) }));
  const series = d3.stack().keys(STACK_KEYS).value((d, k) => d.v[k])(data);
  const area = d3.area().x((d) => xs(d.data.date)).y0((d) => ys(d[0])).y1((d) => ys(d[1]));
  const yb = py + ph;
  const gap = Math.abs(ys(yTicks[0]) - ys(yTicks[1]));
  const yFont = Math.min(14.5, gap * 0.97);
  return (
    <g>
      <Strip px={px} py={py} pw={pw} name={name} />
      <rect x={px} y={py} width={pw} height={ph} fill="#f0f0f0" />
      <clipPath id={id}><rect x={px} y={py} width={pw} height={ph} /></clipPath>
      <g clipPath={`url(#${id})`}>
        {series.map((s) => <path key={s.key} d={area(s)} fill={PROVINCE_COLORS[s.key]} />)}
      </g>
      <line x1={px} x2={px} y1={py} y2={yb} stroke={AXIS_COL} strokeWidth={1.4} />
      <line x1={px} x2={px + pw} y1={yb} y2={yb} stroke={AXIS_COL} strokeWidth={1.4} />
      {yTicks.map((t) => (
        <g key={"y" + t}>
          <line x1={px - 3} x2={px} y1={ys(t)} y2={ys(t)} stroke={AXIS_COL} strokeWidth={1.2} />
          <text x={px - 5} y={ys(t)} textAnchor="end" dominantBaseline="central" fontSize={yFont} fontWeight="bold" fill={TICK_COL}>{t}</text>
        </g>
      ))}
      {xTicks.map((m) => {
        const xv = xs(parseMonth(m));
        return (
          <g key={"x" + m}>
            <line x1={xv} x2={xv} y1={yb} y2={yb + 3} stroke={AXIS_COL} strokeWidth={1.2} />
            <text transform={`translate(${xv + 2},${yb + 5}) rotate(-45)`} textAnchor="end" dominantBaseline="hanging" fontSize={11} fontWeight="bold" fill={TICK_COL}>{fmtMonth(parseMonth(m))}</text>
          </g>
        );
      })}
    </g>
  );
}

function BarFacet({ id, name, rows, px, py, pw, ph, showY, showX }) {
  const xs = d3.scaleTime().domain(barDomain.map((d) => parseDay(d))).range([px, px + pw]);
  const ys = d3.scaleLinear().domain([0, 1]).range([py + ph, py]);
  const data = rows.map((r) => ({ date: parseMonth(r[0]), v: PROVINCES.map((_, i) => Number(r[i + 1] ?? 0)) }));
  const series = d3.stack().keys(STACK_KEYS).value((d, k) => d.v[k]).offset(d3.stackOffsetExpand)(data);
  const yb = py + ph;
  return (
    <g>
      <Strip px={px} py={py} pw={pw} name={name} />
      <rect x={px} y={py} width={pw} height={ph} fill="#f0f0f0" />
      <clipPath id={id}><rect x={px} y={py} width={pw} height={ph} /></clipPath>
      <g clipPath={`url(#${id})`}>
        {series.map((s) => s.map((d, j) => {
          if (!(d[1] - d[0] > 0)) return null;
          const x0 = xs(d3.timeDay.offset(d.data.date, -15));
          const x1 = xs(d3.timeDay.offset(d.data.date, 16));
          return <rect key={s.key + "-" + j} x={x0} width={x1 - x0} y={ys(d[1])} height={ys(d[0]) - ys(d[1])} fill={PROVINCE_COLORS[s.key]} />;
        }))}
      </g>
      {showY && <line x1={px} x2={px} y1={py} y2={yb} stroke={AXIS_COL} strokeWidth={1.4} />}
      {showY && barYTicks.map((t) => (
        <g key={"y" + t}>
          <line x1={px - 3} x2={px} y1={ys(t)} y2={ys(t)} stroke={AXIS_COL} strokeWidth={1.2} />
          <text x={px - 5} y={ys(t)} textAnchor="end" dominantBaseline="central" fontSize={15} fontWeight="bold" fill={TICK_COL}>{t.toFixed(2)}</text>
        </g>
      ))}
      {showX && <line x1={px} x2={px + pw} y1={yb} y2={yb} stroke={AXIS_COL} strokeWidth={1.4} />}
      {showX && barXTicks.map((m) => {
        const xv = xs(parseMonth(m));
        return (
          <g key={"x" + m}>
            <line x1={xv} x2={xv} y1={yb} y2={yb + 3} stroke={AXIS_COL} strokeWidth={1.2} />
            <text transform={`translate(${xv + 2},${yb + 5}) rotate(-45)`} textAnchor="end" dominantBaseline="hanging" fontSize={14} fontWeight="bold" fill={TICK_COL}>{fmtMonth(parseMonth(m))}</text>
          </g>
        );
      })}
    </g>
  );
}

function Legend() {
  const cols = [[300, 322], [389, 411], [547, 568], [687, 707], [832, 853]];
  return (
    <g>
      <rect x={205} y={4} width={857} height={37} fill="white" stroke="#e3e3e3" />
      <text x={209} y={23} dominantBaseline="central" fontSize={19} fontWeight="bold" fill="#111">Province</text>
      {PROVINCES.map((p, i) => {
        const c = Math.floor(i / 2), r = i % 2;
        const [kx, tx] = cols[c];
        const cy = 15.5 + r * 14.5;
        return (
          <g key={p}>
            <rect x={kx} y={cy - 6.5} width={13} height={13} fill={PROVINCE_COLORS[i]} stroke="white" strokeWidth={0.8} />
            <text x={tx} y={cy + 1} dominantBaseline="central" fontSize={14} fontWeight="bold" fill="#111">{p}</text>
          </g>
        );
      })}
    </g>
  );
}

export default function App() {
  const areaA = VARIANTS.map((v, i) => {
    const col = i % 5, row = Math.floor(i / 5);
    return <AreaFacet key={"A" + v} id={"clipA" + i} name={v} rows={seqRows[i]} start={seqStart[i]} end={seqEnd[i]} yMax={seqYMax[i]}
      yTicks={seqYTicks[i]} xTicks={seqXTicks[i]} px={A_COLS[col]} py={A_ROWS[row]} pw={A_W} ph={A_H} />;
  });
  const areaC = VARIANTS.map((v, i) => {
    const col = i % 5, row = Math.floor(i / 5);
    return <AreaFacet key={"C" + v} id={"clipC" + i} name={v} rows={caseRows[i]} start={caseStart[i]} end={caseEnd[i]} yMax={caseYMax[i]}
      yTicks={caseYTicks[i]} xTicks={caseXTicks[i]} px={C_COLS[col]} py={C_ROWS[row]} pw={C_W} ph={C_H} />;
  });
  const barsB = DRAW_ORDER.map((i) => {
    const v = VARIANTS[i];
    const col = i % 5, row = Math.floor(i / 5);
    return <BarFacet key={"B" + v} id={"clipB" + i} name={v} rows={propRows[i]} px={B_COLS[col]} py={B_ROWS[row]} pw={B_W} ph={B_H}
      showY={col === 0} showX={row === 2 || i === 9} />;
  });
  const barsD = DRAW_ORDER.map((i) => {
    const v = VARIANTS[i];
    const col = i % 5, row = Math.floor(i / 5);
    return <BarFacet key={"D" + v} id={"clipD" + i} name={v} rows={mpropRows[i]} px={B_COLS[col]} py={D_ROWS[row]} pw={B_W} ph={B_H}
      showY={col === 0} showX={row === 2 || i === 9} />;
  });
  return (
    <svg width={1254} height={1029} style={{ position: "absolute", left: 0, top: 0, background: "white" }} fontFamily={FONT}>
      <rect x={0} y={0} width={1254} height={1029} fill="white" />
      <Legend />
      <line x1={10} x2={1254} y1={53} y2={53} stroke="#e6e6e6" strokeWidth={1} />
      <text x={21} y={86} fontSize={25} fontWeight="bold">A</text>
      <text x={646} y={86} fontSize={25} fontWeight="bold">B</text>
      <text x={21} y={572} fontSize={25} fontWeight="bold">C</text>
      <text x={646} y={572} fontSize={25} fontWeight="bold">D</text>
      <text transform="translate(21,292) rotate(-90)" textAnchor="middle" dominantBaseline="central" fontSize={19} fontWeight="bold">Average sequences available</text>
      <text transform="translate(655,281) rotate(-90)" textAnchor="middle" dominantBaseline="central" fontSize={19} fontWeight="bold">Proportion sequences available</text>
      <text transform="translate(21,780) rotate(-90)" textAnchor="middle" dominantBaseline="central" fontSize={19} fontWeight="bold">Estimated variant cases</text>
      <text transform="translate(655,768) rotate(-90)" textAnchor="middle" dominantBaseline="central" fontSize={19} fontWeight="bold">Monthly proportion estimated cases</text>
      {areaA}
      {barsB}
      {areaC}
      {barsD}
    </svg>
  );
}
